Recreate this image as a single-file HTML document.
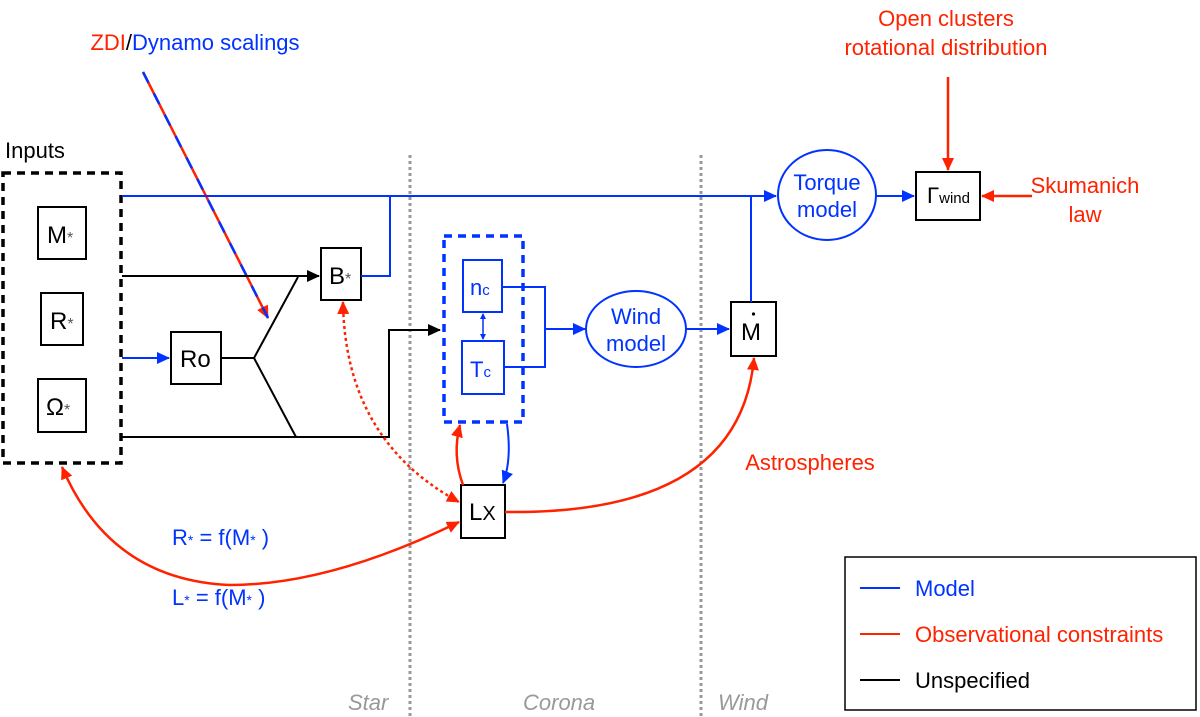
<!DOCTYPE html>
<html><head><meta charset="utf-8"><style>
html,body{margin:0;padding:0;background:#fff;}
svg{display:block;font-family:"Liberation Sans",sans-serif;}
</style></head><body>
<svg width="1200" height="717" viewBox="0 0 1200 717" xmlns="http://www.w3.org/2000/svg">
<defs>
<marker id="ab" markerWidth="13" markerHeight="12" refX="12" refY="6" orient="auto" markerUnits="userSpaceOnUse"><path d="M0,0 L13,6 L0,12 z" fill="#0033ff"/></marker>
<marker id="ak" markerWidth="13" markerHeight="12" refX="12" refY="6" orient="auto" markerUnits="userSpaceOnUse"><path d="M0,0 L13,6 L0,12 z" fill="#000"/></marker>
<marker id="ar" markerWidth="13" markerHeight="12" refX="12" refY="6" orient="auto" markerUnits="userSpaceOnUse"><path d="M0,0 L13,6 L0,12 z" fill="#ff2200"/></marker>
<marker id="ars" markerWidth="13" markerHeight="12" refX="1" refY="6" orient="auto" markerUnits="userSpaceOnUse"><path d="M13,0 L0,6 L13,12 z" fill="#ff2200"/></marker>
<marker id="abs" markerWidth="6" markerHeight="6" refX="1" refY="3" orient="auto" markerUnits="userSpaceOnUse"><path d="M6,0 L0,3 L6,6 z" fill="#0033ff"/></marker>
<marker id="abe" markerWidth="6" markerHeight="6" refX="5" refY="3" orient="auto" markerUnits="userSpaceOnUse"><path d="M0,0 L6,3 L0,6 z" fill="#0033ff"/></marker>
</defs>
<line x1="410" y1="155" x2="410" y2="717" stroke="#999" stroke-width="3" stroke-dasharray="3,3"/>
<line x1="701" y1="155" x2="701" y2="717" stroke="#999" stroke-width="3" stroke-dasharray="3,3"/>
<g font-style="italic" fill="#999" font-size="22">
<text x="348" y="710">Star</text><text x="523" y="710">Corona</text><text x="718" y="710">Wind</text>
</g>
<line x1="143" y1="72" x2="268" y2="318" stroke="#ff2200" stroke-width="2.5" marker-end="url(#ar)"/>
<line x1="143" y1="72" x2="268" y2="318" stroke="#0033ff" stroke-width="2.5" stroke-dasharray="12,12"/>
<text x="195" y="50" font-size="22" text-anchor="middle"><tspan fill="#ff2200">ZDI</tspan><tspan fill="#000">/</tspan><tspan fill="#0033ff">Dynamo scalings</tspan></text>
<text x="5" y="158" font-size="22">Inputs</text>
<rect x="3" y="173" width="118" height="290" fill="none" stroke="#000" stroke-width="3.5" stroke-dasharray="8,6"/>
<g fill="none" stroke="#000" stroke-width="2">
<rect x="38" y="207" width="48" height="52"/><rect x="41" y="293" width="42" height="52"/><rect x="38" y="379" width="48" height="53"/>
<rect x="321" y="248" width="40" height="52"/><rect x="171" y="332" width="50" height="52"/>
<rect x="731" y="302" width="45" height="54"/><rect x="461" y="485" width="44" height="53"/>
<rect x="916" y="172" width="64" height="48"/>
</g>
<g font-size="24" fill="#000">
<text x="47" y="243">M<tspan font-size="16" fill="#555">*</tspan></text>
<text x="50" y="329">R<tspan font-size="16" fill="#555">*</tspan></text>
<text x="46" y="415">Ω<tspan font-size="16" fill="#555">*</tspan></text>
<text x="329" y="284">B<tspan font-size="16" fill="#555">*</tspan></text>
<text x="180" y="367">Ro</text>
<text x="741" y="340">M</text><circle cx="753.5" cy="314" r="1.6" fill="#000"/>
<text x="469" y="520">L<tspan font-size="20">X</tspan></text>
<text x="927" y="203" font-size="22">Γ<tspan font-size="15">wind</tspan></text>
</g>
<g fill="none" stroke="#000" stroke-width="2">
<line x1="122" y1="276" x2="319" y2="276" marker-end="url(#ak)"/>
<line x1="221" y1="358" x2="254" y2="358"/>
<polyline points="298,277 254,358 296,437"/>
<polyline points="122,437 389,437 389,330 440,330" marker-end="url(#ak)"/>
</g>
<g fill="none" stroke="#0033ff" stroke-width="2">
<line x1="122" y1="196" x2="776" y2="196" marker-end="url(#ab)"/>
<polyline points="361,276 390,276 390,196"/>
<line x1="122" y1="358" x2="169" y2="358" marker-end="url(#ab)"/>
<rect x="444" y="236" width="79" height="186" stroke-width="3.5" stroke-dasharray="8,6"/>
<rect x="463" y="260" width="39" height="52"/><rect x="462" y="341" width="42" height="53"/>
<polyline points="502,287 545,287 545,367 504,367"/>
<line x1="545" y1="329" x2="585" y2="329" marker-end="url(#ab)"/>
<ellipse cx="636" cy="329" rx="50" ry="38"/>
<line x1="686" y1="329" x2="729" y2="329" marker-end="url(#ab)"/>
<line x1="751" y1="302" x2="751" y2="196"/>
<ellipse cx="827" cy="195" rx="49" ry="45"/>
<line x1="876" y1="196" x2="914" y2="196" marker-end="url(#ab)"/>
<line x1="483" y1="314" x2="483" y2="339" stroke-width="1.5" marker-start="url(#abs)" marker-end="url(#abe)"/>
<path d="M507,424 Q512,460 503,483" marker-end="url(#ab)"/>
</g>
<g fill="#0033ff" font-size="22">
<text x="470" y="295">n<tspan font-size="15">c</tspan></text>
<text x="470" y="377">T<tspan font-size="15">c</tspan></text>
<text x="636" y="324" text-anchor="middle">Wind</text><text x="636" y="351" text-anchor="middle">model</text>
<text x="827" y="190" text-anchor="middle">Torque</text><text x="827" y="217" text-anchor="middle">model</text>
<text x="172" y="545">R<tspan font-size="14">*</tspan> = f(M<tspan font-size="14">*</tspan> )</text>
<text x="172" y="605">L<tspan font-size="14">*</tspan> = f(M<tspan font-size="14">*</tspan> )</text>
</g>
<g fill="none" stroke="#ff2200" stroke-width="2.5">
<line x1="948" y1="77" x2="948" y2="170" marker-end="url(#ar)"/>
<line x1="1032" y1="196" x2="982" y2="196" marker-end="url(#ar)"/>
<path d="M463,485 Q452,455 460,425" marker-end="url(#ar)"/>
<path d="M505,512 Q740,515 754,358" marker-end="url(#ar)"/>
<path d="M62,467 Q110,580 230,585 Q330,585 459,522" marker-start="url(#ars)" marker-end="url(#ar)"/>
<path d="M343,302 Q345,440 459,502" stroke-dasharray="3,3" marker-start="url(#ars)" marker-end="url(#ar)"/>
</g>
<g fill="#ff2200" font-size="22" text-anchor="middle">
<text x="946" y="26">Open clusters</text><text x="946" y="55">rotational distribution</text>
<text x="1085" y="193">Skumanich</text><text x="1085" y="222">law</text>
<text x="810" y="470">Astrospheres</text>
</g>
<rect x="845" y="557" width="351" height="153" fill="none" stroke="#000" stroke-width="1.5"/>
<line x1="860" y1="588" x2="900" y2="588" stroke="#0033ff" stroke-width="2"/>
<line x1="860" y1="634" x2="900" y2="634" stroke="#ff2200" stroke-width="2"/>
<line x1="860" y1="680" x2="900" y2="680" stroke="#000" stroke-width="2"/>
<g font-size="22"><text x="915" y="596" fill="#0033ff">Model</text>
<text x="915" y="642" fill="#ff2200">Observational constraints</text>
<text x="915" y="688" fill="#000">Unspecified</text></g>
</svg>
</body></html>
